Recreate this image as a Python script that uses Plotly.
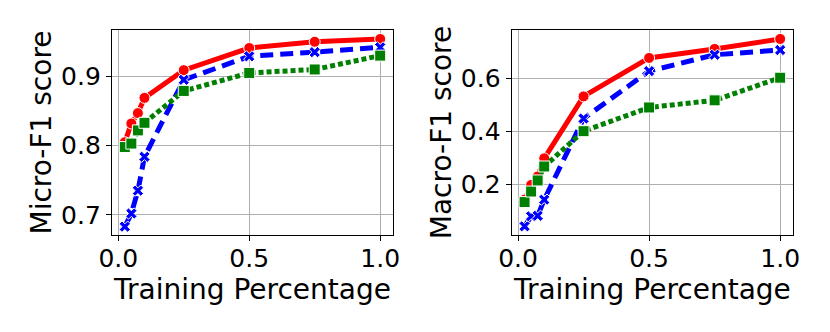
import plotly.graph_objects as go
from plotly.subplots import make_subplots

train_pct = [0.025, 0.05, 0.075, 0.1, 0.25, 0.5, 0.75, 1.0]

micro_red = [0.805, 0.832, 0.847, 0.869, 0.909, 0.941, 0.950, 0.954]
micro_blue = [0.683, 0.702, 0.735, 0.784, 0.895, 0.929, 0.935, 0.942]
micro_green = [0.798, 0.803, 0.822, 0.833, 0.879, 0.905, 0.910, 0.930]

macro_red = [0.141, 0.197, 0.229, 0.298, 0.533, 0.679, 0.713, 0.751]
macro_blue = [0.040, 0.078, 0.080, 0.141, 0.449, 0.629, 0.691, 0.709]
macro_green = [0.132, 0.172, 0.214, 0.267, 0.401, 0.491, 0.518, 0.604]

FONT = "DejaVu Sans"

styles = [
    dict(color="#ff0000", dash="solid", symbol="circle", size=11),
    dict(color="#0000ff", dash="13px,7px", symbol="x", size=10),
    dict(color="#008000", dash="5px,3px", symbol="square", size=11),
]

fig = make_subplots(rows=1, cols=2)

for col, series in ((1, [micro_red, micro_blue, micro_green]),
                    (2, [macro_red, macro_blue, macro_green])):
    for vals, st in zip(series, styles):
        fig.add_trace(go.Scatter(
            x=train_pct, y=vals, mode="lines+markers", showlegend=False,
            line=dict(color=st["color"], width=5, dash=st["dash"]),
            marker=dict(symbol=st["symbol"], size=st["size"], color=st["color"],
                        line=dict(color="white", width=1)),
        ), row=1, col=col)

axis_common = dict(
    showline=True, linecolor="black", linewidth=1.2, mirror=True,
    showgrid=True, gridcolor="#b0b0b0", gridwidth=1,
    ticks="outside", ticklen=5, tickcolor="black", zeroline=False,
    tickfont=dict(family=FONT, size=25, color="black"), automargin=False,
)

# page body has an 8px margin, so the figure is 822x324 and domains account for it
fig.update_xaxes(**axis_common, range=[-0.024, 1.049], tickvals=[0.0, 0.5, 1.0],
                 ticktext=["0.0", "0.5", "1.0"], ticklabelstandoff=-4,
                 title=dict(text="Training Percentage", font=dict(family=FONT, size=28, color="black"),
                            standoff=0))
fig.update_xaxes(domain=[0.1265, 0.4684], row=1, col=1)
fig.update_xaxes(domain=[0.6128, 0.9550], row=1, col=2)

fig.update_yaxes(**axis_common, domain=[0.2994, 0.9321])
fig.update_yaxes(range=[0.671, 0.967], tickvals=[0.7, 0.8, 0.9], ticktext=["0.7", "0.8", "0.9"],
                 title=dict(text="Micro-F1 score", font=dict(family=FONT, size=28, color="black"),
                            standoff=1), row=1, col=1)
fig.update_yaxes(range=[0.007, 0.785], tickvals=[0.2, 0.4, 0.6], ticktext=["0.2", "0.4", "0.6"],
                 title=dict(text="Macro-F1 score", font=dict(family=FONT, size=28, color="black"),
                            standoff=1), row=1, col=2)

fig.update_layout(
    width=822, height=324,
    margin=dict(l=0, r=0, t=0, b=0),
    paper_bgcolor="white", plot_bgcolor="white",
    font=dict(family=FONT, color="black"),
)

fig.write_html("out.html")
